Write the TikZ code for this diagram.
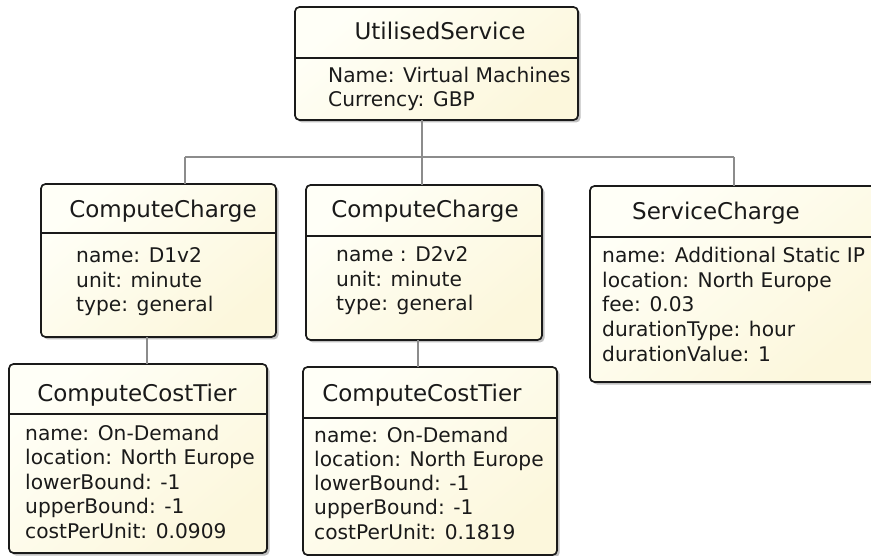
\documentclass[tikz,border=0pt]{standalone}
\usepackage{fontspec}
\setmainfont{DejaVu Sans}
\usetikzlibrary{shadows}
\definecolor{ylwA}{HTML}{FFFFF7}
\definecolor{ylwB}{HTML}{FCF7DC}
\definecolor{edge}{HTML}{1A1A1A}
\definecolor{conncol}{HTML}{8C8C8C}
\definecolor{ink}{HTML}{1A1A1A}
\tikzset{
  box/.style={draw=edge, line width=1.7pt, rounded corners=4.5pt, inner sep=0pt, outer sep=0pt,
    top color=ylwA, bottom color=ylwB, shading angle=40,
    drop shadow={shadow xshift=2.5pt, shadow yshift=-2.5pt, opacity=0.25, fill=black},
    anchor=north west},
  divline/.style={draw=edge, line width=1.5pt},
  conn/.style={draw=conncol, line width=1.4pt},
  title/.style={anchor=base, inner sep=0pt, text=ink, font=\fontsize{23}{27}\selectfont},
  attr/.style={anchor=base west, inner sep=0pt, text=ink, font=\fontsize{20.2}{24}\selectfont}
}
\begin{document}
\begin{tikzpicture}[x=1pt, y=-1pt]
\useasboundingbox (0,0) rectangle (871,556);
% boxes
\node[box, minimum width=283pt, minimum height=113pt] (us) at (295,7) {};
\node[box, minimum width=235pt, minimum height=153pt] (cc1) at (41,184) {};
\node[box, minimum width=236pt, minimum height=155pt] (cc2) at (306,185) {};
\node[box, minimum width=290pt, minimum height=196pt] (sc) at (590,186) {};
\node[box, minimum width=258pt, minimum height=189pt] (t1) at (9,364) {};
\node[box, minimum width=254pt, minimum height=188pt] (t2) at (303,367) {};
% dividers
\draw[divline] (us.west |- 0,58) -- (us.east |- 0,58);
\draw[divline] (cc1.west |- 0,233) -- (cc1.east |- 0,233);
\draw[divline] (cc2.west |- 0,236) -- (cc2.east |- 0,236);
\draw[divline] (sc.west |- 0,237) -- (sc.east |- 0,237);
\draw[divline] (t1.west |- 0,414) -- (t1.east |- 0,414);
\draw[divline] (t2.west |- 0,418) -- (t2.east |- 0,418);
% titles
\node[title] (ust) at (440,40) {UtilisedService};
\node[title] (cc1t) at (163,218) {ComputeCharge};
\node[title] (cc2t) at (425,218) {ComputeCharge};
\node[title] (sct) at (716,220) {ServiceCharge};
\node[title] (t1t) at (137,401) {ComputeCostTier};
\node[title] (t2t) at (422,401) {ComputeCostTier};
% attributes
\node[attr] (usa1) at (328,83) {Name: Virtual Machines};
\node[attr] (usa2) at (328,107) {Currency: GBP};
\foreach \t [count=\i] in {name: D1v2, unit: minute, type: general}
  \node[attr] (cc1a\i) at (76,{263+24.5*(\i-1)}) {\t};
\foreach \t [count=\i] in {name : D2v2, unit: minute, type: general}
  \node[attr] (cc2a\i) at (336,{262+24.3*(\i-1)}) {\t};
\foreach \t [count=\i] in {name: Additional Static IP, location: North Europe, fee: 0.03, durationType: hour, durationValue: 1}
  \node[attr] (sca\i) at (602,{263+24.5*(\i-1)}) {\t};
\foreach \t [count=\i] in {name: On-Demand, location: North Europe, lowerBound: -1, upperBound: -1, costPerUnit: 0.0909}
  \node[attr] (t1a\i) at (25,{440+24.5*(\i-1)}) {\t};
\foreach \t [count=\i] in {name: On-Demand, location: North Europe, lowerBound: -1, upperBound: -1, costPerUnit: 0.1819}
  \node[attr] (t2a\i) at (314,{442+24.3*(\i-1)}) {\t};
% connectors
\coordinate (bl) at (185,157);
\coordinate (bj) at (422,157);
\coordinate (br) at (734,157);
\coordinate (k1) at (147,0);
\coordinate (k2) at (418,0);
\draw[conn] (us.south -| bj) -- (bj);
\draw[conn] (bl) -- (br);
\draw[conn] (bl) -- (bl |- cc1.north);
\draw[conn] (bj) -- (bj |- cc2.north);
\draw[conn] (br) -- (br |- sc.north);
\draw[conn] (cc1.south -| k1) -- (t1.north -| k1);
\draw[conn] (cc2.south -| k2) -- (t2.north -| k2);
\end{tikzpicture}
\end{document}
